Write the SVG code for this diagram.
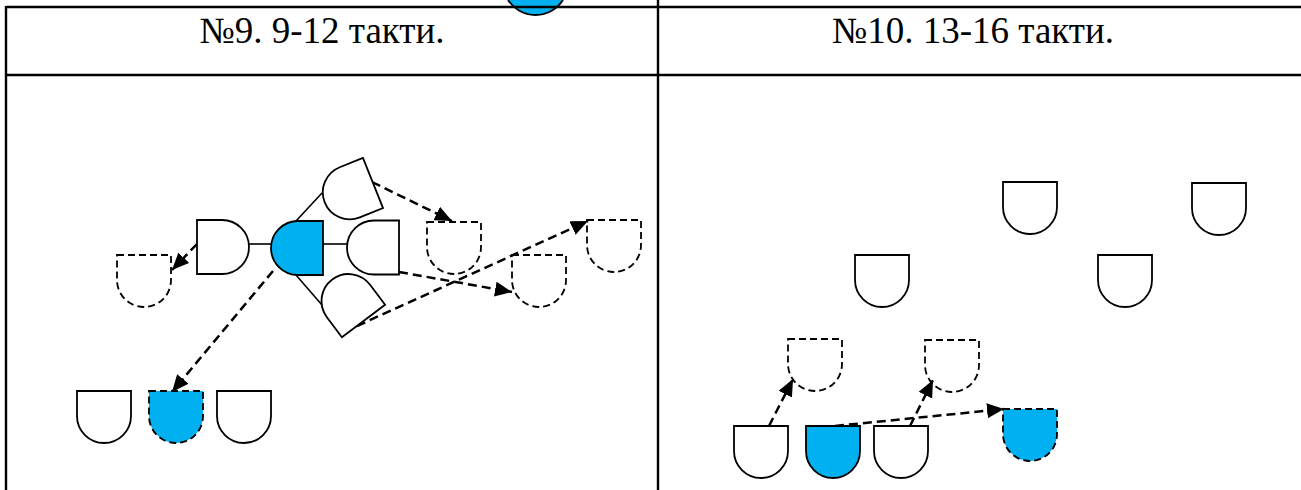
<svg xmlns="http://www.w3.org/2000/svg" width="1301" height="490" viewBox="0 0 1301 490">
<style>
.grid{stroke:#000;stroke-width:2.4;fill:none}
.w{fill:#fff;stroke:#000;stroke-width:1.8}
.b{fill:#00B0F0;stroke:#000;stroke-width:1.8}
.wd{fill:none;stroke:#000;stroke-width:1.8;stroke-dasharray:7 4}
.bd{fill:#00B0F0;stroke:#000;stroke-width:1.8;stroke-dasharray:7 4}
.sl{stroke:#000;stroke-width:1.6;fill:none}
.dl{stroke:#000;stroke-width:2.5;fill:none;stroke-dasharray:9 5;marker-end:url(#ah)}
</style>
<defs>
<marker id="ah" markerUnits="userSpaceOnUse" markerWidth="19" markerHeight="16" refX="17" refY="7.5" orient="auto">
<path d="M0,0 L17,7.5 L0,15 Z" fill="#000"/>
</marker>
<path id="dd" d="M0,0 H54 V25 A27,27 0 0 1 0,25 Z"/>
<path id="dlf" d="M0,-27 H-25 A27,27 0 0 0 -25,27 H0 Z"/>
<path id="drt" d="M0,-27 H25 A27,27 0 0 1 25,27 H0 Z"/>
</defs>

<g id="table">
<rect x="0" y="0" width="1301" height="490" fill="#fff"/>
<path d="M508,0 A32.7,32.7 0 0 0 563,0 Z" fill="#00B0F0"/>
<path d="M508,0 A32.7,32.7 0 0 0 563,0" fill="none" stroke="#000" stroke-width="1.8"/>
<line class="grid" x1="6" y1="7" x2="1301" y2="7"/>
<line class="grid" x1="6" y1="75" x2="1301" y2="75"/>
<line class="grid" x1="6" y1="6" x2="6" y2="490"/>
<line class="grid" x1="658" y1="0" x2="658" y2="490"/>
<text x="322" y="43" font-family="'Liberation Serif', 'Times New Roman', serif" font-size="37" text-anchor="middle" fill="#000">№9. 9-12 такти.</text>
<text x="973" y="43" font-family="'Liberation Serif', 'Times New Roman', serif" font-size="37" text-anchor="middle" fill="#000">№10. 13-16 такти.</text>
</g>

<g id="connectors">
<line class="sl" x1="249" y1="244" x2="272" y2="244"/>
<line class="sl" x1="323" y1="244" x2="347" y2="244"/>
<line class="sl" x1="296" y1="221" x2="322" y2="193"/>
<line class="sl" x1="296" y1="275" x2="322" y2="305"/>
<line class="dl" x1="197" y1="244" x2="172" y2="270"/>
<line class="dl" x1="273" y1="271" x2="172" y2="392"/>
<line class="dl" x1="372" y1="182" x2="452" y2="221"/>
<line class="dl" x1="399" y1="272" x2="512" y2="292"/>
<line class="dl" x1="357" y1="326" x2="588" y2="221"/>
<line class="dl" x1="769" y1="426" x2="793" y2="379"/>
<line class="dl" x1="910" y1="426" x2="933" y2="380"/>
<line class="dl" x1="835" y1="426" x2="1004" y2="409"/>
</g>

<g id="n-left-dashed"><use href="#dd" class="wd" x="117" y="255"/></g>
<g id="n-left-d"><use href="#drt" class="w" transform="translate(197,247)"/></g>
<g id="n-blue-center"><use href="#dlf" class="b" transform="translate(323,248)"/></g>
<g id="n-right-d"><use href="#dlf" class="w" transform="translate(399,247.5)"/></g>
<g id="n-upper-rot"><use href="#dlf" class="w" transform="translate(373,183) rotate(-21.8)"/></g>
<g id="n-lower-rot"><use href="#dlf" class="w" transform="translate(363.5,321) rotate(53.1)"/></g>
<g id="n-dash-a"><use href="#dd" class="wd" x="427" y="222"/></g>
<g id="n-dash-b"><use href="#dd" class="wd" x="512" y="255"/></g>
<g id="n-dash-c"><use href="#dd" class="wd" x="587" y="220"/></g>
<g id="n-bot-1"><use href="#dd" class="w" x="77" y="391"/></g>
<g id="n-bot-2"><use href="#dd" class="bd" x="149" y="391"/></g>
<g id="n-bot-3"><use href="#dd" class="w" x="217" y="391"/></g>

<g id="n-r1"><use href="#dd" class="w" x="1003" y="182"/></g>
<g id="n-r2"><use href="#dd" class="w" x="1192" y="183"/></g>
<g id="n-r3"><use href="#dd" class="w" x="855" y="255"/></g>
<g id="n-r4"><use href="#dd" class="w" x="1098" y="255"/></g>
<g id="n-r5"><use href="#dd" class="wd" x="788" y="339"/></g>
<g id="n-r6"><use href="#dd" class="wd" x="925" y="340"/></g>
<g id="n-r7"><use href="#dd" class="w" x="734" y="426"/></g>
<g id="n-r8"><use href="#dd" class="b" x="806" y="426"/></g>
<g id="n-r9"><use href="#dd" class="w" x="874" y="426"/></g>
<g id="n-r10"><use href="#dd" class="bd" x="1003" y="409"/></g>
</svg>
